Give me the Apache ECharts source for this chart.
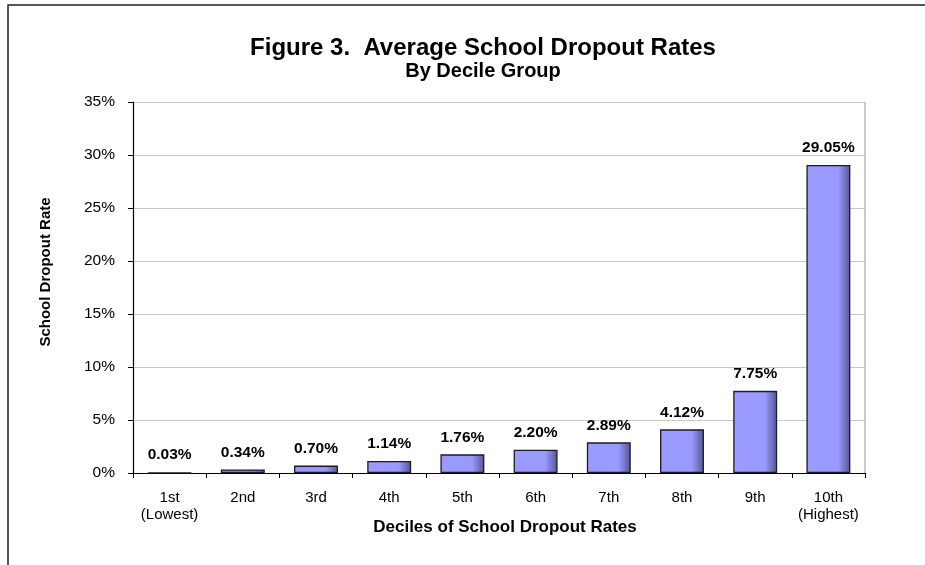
<!DOCTYPE html>
<html><head><meta charset="utf-8">
<script src="https://cdn.jsdelivr.net/npm/echarts@6/dist/echarts.min.js"></script>
<style>html,body{margin:0;padding:0;background:#fff}#c{width:925px;height:565px}</style>
</head><body><div id="c"></div>
<script>
const categories = ['1st\n(Lowest)','2nd','3rd','4th','5th','6th','7th','8th','9th','10th\n(Highest)'];
const values = [0.03, 0.34, 0.70, 1.14, 1.76, 2.20, 2.89, 4.12, 7.75, 29.05];
const yTicks = [0, 5, 10, 15, 20, 25, 30, 35];
const titleText = 'Figure 3.  Average School Dropout Rates';
const subtitleText = 'By Decile Group';
const yName = 'School Dropout Rate';
const xName = 'Deciles of School Dropout Rates';

const font = '"Liberation Sans", Arial, sans-serif';
const chart = echarts.init(document.getElementById('c'), null, {renderer: 'canvas'});
chart.setOption({
  animation: false,
  backgroundColor: '#fff',
  textStyle: {fontFamily: font},
  graphic: [
    {type: 'rect', shape: {x: 8, y: 5, width: 1000, height: 1000}, style: {fill: 'none', stroke: '#222', lineWidth: 1.5}, z: 100},
    {type: 'line', shape: {x1: 865, y1: 102, x2: 865, y2: 473}, style: {stroke: '#999', lineWidth: 1}, z: 5},
    {type: 'text', x: 483, y: 48, style: {text: titleText, font: 'bold 24px ' + font, fill: '#000', align: 'center', verticalAlign: 'middle'}},
    {type: 'text', x: 483, y: 71, style: {text: subtitleText, font: 'bold 20px ' + font, fill: '#000', align: 'center', verticalAlign: 'middle'}},
    {type: 'text', x: 46, y: 272, rotation: Math.PI / 2, style: {text: yName, font: 'bold 15px ' + font, fill: '#000', align: 'center', verticalAlign: 'middle'}},
    {type: 'text', x: 505, y: 527, style: {text: xName, font: 'bold 17px ' + font, fill: '#000', align: 'center', verticalAlign: 'middle'}}
  ],
  grid: {left: 133, right: 60, top: 102, bottom: 92, containLabel: false},
  xAxis: {
    type: 'category', data: categories,
    axisLine: {lineStyle: {color: '#000', width: 1.2}},
    axisTick: {show: true, alignWithLabel: false, length: 5, lineStyle: {color: '#000'}},
    axisLabel: {interval: 0, fontSize: 15, color: '#000', margin: 16, lineHeight: 17, fontFamily: font}
  },
  yAxis: {
    type: 'value', min: 0, max: 35, interval: 5,
    axisLine: {show: true, lineStyle: {color: '#000', width: 1.2}},
    axisTick: {show: true, length: 5, lineStyle: {color: '#000'}},
    axisLabel: {fontSize: 15.5, color: '#000', margin: 18, formatter: v => yTicks.includes(v) ? v + '%' : '', fontFamily: font},
    splitLine: {show: true, lineStyle: {color: '#c8c8c8', width: 1}}
  },
  series: [{
    type: 'bar', data: values, barCategoryGap: '40%',
    itemStyle: {
      color: new echarts.graphic.LinearGradient(0, 0, 1, 0, [
        {offset: 0, color: '#9a9aff'},
        {offset: 0.72, color: '#9999ff'},
        {offset: 1, color: '#55558f'}
      ]),
      borderColor: '#1a1a2e', borderWidth: 1.3
    },
    label: {show: true, position: 'top', distance: 9, fontSize: 15.5, fontWeight: 'bold', color: '#000', fontFamily: font,
      formatter: p => p.value.toFixed(2) + '%'}
  }]
});
</script></body></html>
